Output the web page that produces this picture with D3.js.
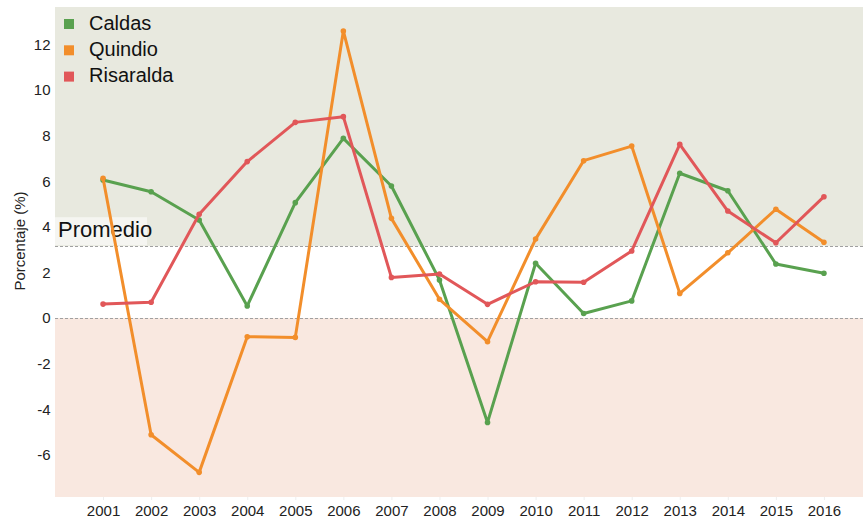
<!DOCTYPE html>
<html>
<head>
<meta charset="utf-8">
<script src="https://cdn.jsdelivr.net/npm/d3@7"></script>
<style>
  html, body { margin: 0; padding: 0; background: #fff; }
  svg { display: block; font-family: "Liberation Sans", Arial, sans-serif; }
</style>
</head>
<body>
<svg id="chart" width="863" height="521"></svg>
<script>
const years = [2001,2002,2003,2004,2005,2006,2007,2008,2009,2010,2011,2012,2013,2014,2015,2016];
const caldas    = [6.05,5.54,4.30,0.53,5.06,7.88,5.79,1.67,-4.58,2.40,0.20,0.75,6.35,5.58,2.37,1.96];
const quindio   = [6.13,-5.12,-6.77,-0.82,-0.85,12.59,4.37,0.82,-1.04,3.46,6.90,7.54,1.08,2.86,4.77,3.32];
const risaralda = [0.61,0.69,4.55,6.86,8.58,8.83,1.78,1.93,0.60,1.59,1.57,2.94,7.62,4.69,3.30,5.32];
const seriesNames = ["Caldas","Quindio","Risaralda"];
const seriesColors = ["#59a14f","#f28e2b","#e15759"];
const yTicks = [-6,-4,-2,0,2,4,6,8,10,12];
const promedio = 3.15;
const promedioLabel = "Promedio";
const yLabel = "Porcentaje (%)";

const seriesData = [caldas, quindio, risaralda];

const svg = d3.select("#chart");
const mLeft = 55, mRight = 872, mTop = 7, mBottom = 497;
const FONT = "Liberation Sans, Arial, sans-serif";

const x = d3.scaleLinear().domain([2000, 2017]).range([mLeft, mRight]);
const y = d3.scaleLinear().domain([-7.85, 13.64]).range([mBottom, mTop]);

// background bands
svg.append("rect").attr("x", mLeft).attr("width", mRight-mLeft)
  .attr("y", y(13.64)).attr("height", y(promedio) - y(13.64)).attr("fill", "#e8e9df");
svg.append("rect").attr("x", mLeft).attr("width", mRight-mLeft)
  .attr("y", y(0)).attr("height", y(-7.85) - y(0)).attr("fill", "#f9e8e0");

// dashed reference lines
[0, promedio].forEach(v => {
  svg.append("line").attr("x1", mLeft).attr("x2", mRight)
    .attr("y1", Math.round(y(v)) + 0.5).attr("y2", Math.round(y(v)) + 0.5)
    .attr("stroke", "#a0a0a0").attr("stroke-width", 1).attr("stroke-dasharray", "3,2");
});

// y axis
const yAxis = d3.axisLeft(y).tickValues(yTicks).tickFormat(d => String(d)).tickSize(0).tickPadding(4);
const gy = svg.append("g").attr("transform", `translate(${mLeft - 0.5},0)`).call(yAxis);
gy.select(".domain").remove();
gy.selectAll("text").attr("font-size", 15).attr("fill", "#222").attr("font-family", FONT);

// x axis
const xAxis = d3.axisBottom(x).tickValues(years).tickFormat(d3.format("d")).tickSize(3).tickPadding(5);
const gx = svg.append("g").attr("transform", `translate(0,${mBottom})`).call(xAxis);
gx.select(".domain").remove();
gx.selectAll("line").attr("stroke", "#eee");
gx.selectAll("text").attr("font-size", 15).attr("fill", "#222").attr("font-family", FONT);

// y label
svg.append("text").attr("transform", `translate(25,241) rotate(-90)`)
  .attr("text-anchor", "middle").attr("font-size", 15).attr("fill", "#222").text(yLabel);

// Promedio label
svg.append("rect").attr("x", mLeft).attr("y", y(promedio) - 29).attr("width", 92).attr("height", 28)
  .attr("fill", "#ffffff").attr("fill-opacity", 0.55);
svg.append("text").attr("x", mLeft + 3).attr("y", y(promedio) - 9.5)
  .attr("font-size", 22).attr("fill", "#111").text(promedioLabel);

// lines
const line = d3.line().x((d,i) => x(years[i])).y(d => y(d));
seriesData.forEach((arr, k) => {
  svg.append("path").datum(arr).attr("d", line)
    .attr("fill", "none").attr("stroke", seriesColors[k]).attr("stroke-width", 3)
    .attr("stroke-linejoin", "round");
  svg.append("g").selectAll("circle").data(arr).join("circle")
    .attr("cx", (d,i) => x(years[i])).attr("cy", d => y(d)).attr("r", 2.8)
    .attr("fill", seriesColors[k]);
});

// legend
const lg = svg.append("g");
seriesNames.forEach((n, i) => {
  const cy = 24 + i * 26.3;
  lg.append("rect").attr("x", 64).attr("y", cy - 5).attr("width", 10).attr("height", 10)
    .attr("fill", seriesColors[i]);
  lg.append("text").attr("x", 89).attr("y", cy + 5.5).attr("font-size", 20).attr("fill", "#111").text(n);
});
</script>
</body>
</html>
